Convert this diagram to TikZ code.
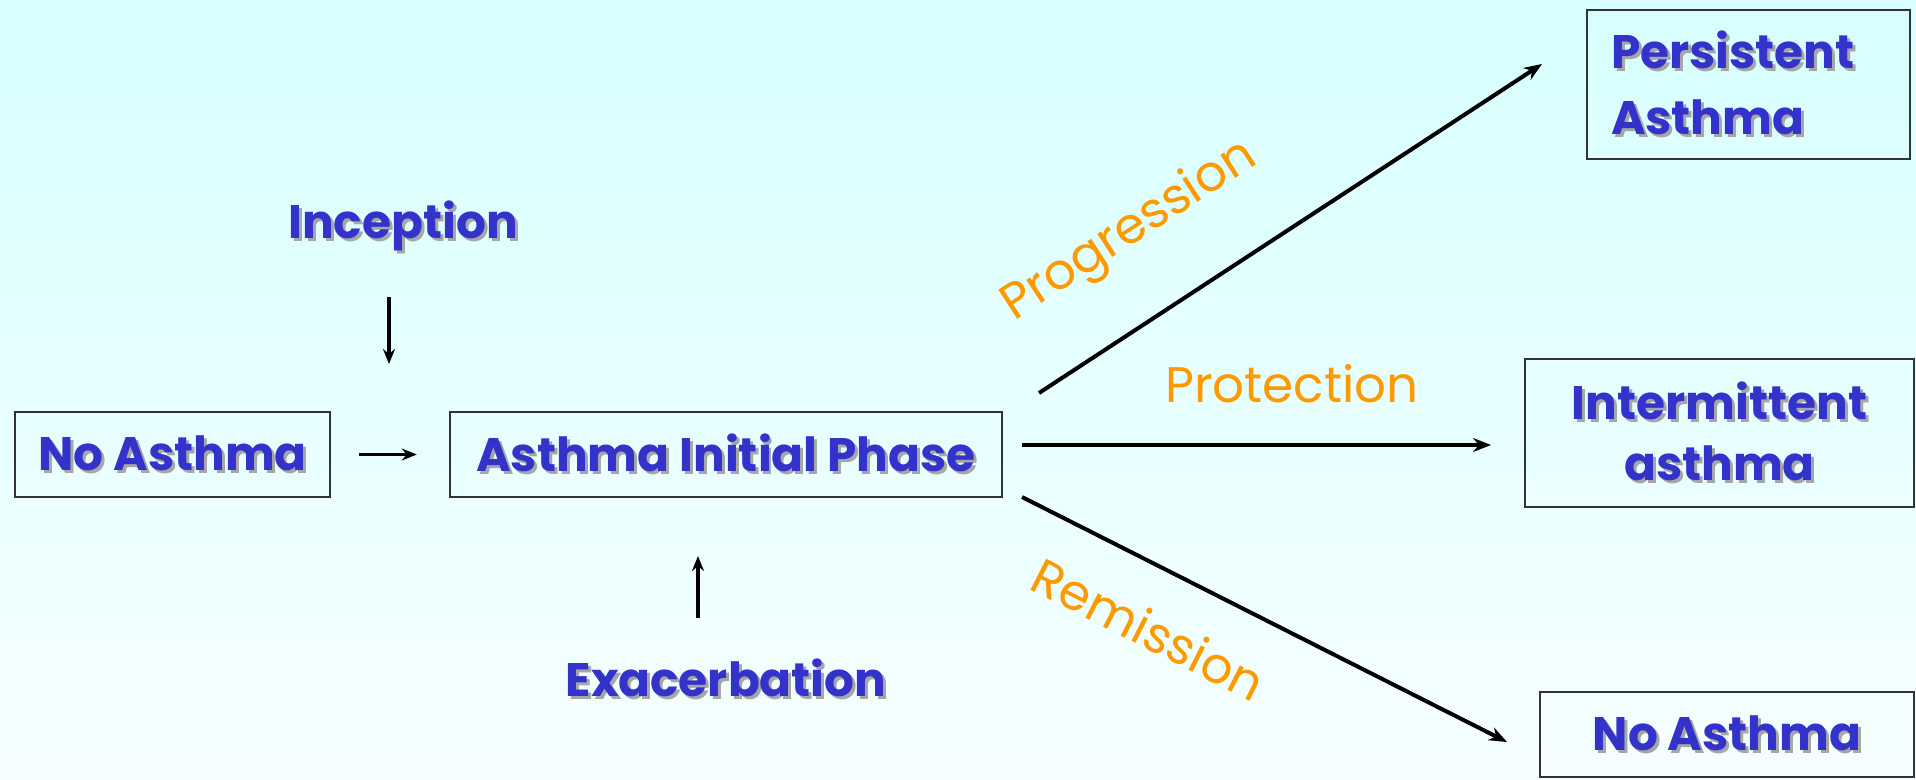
\documentclass[tikz,border=0pt]{standalone}
\usepackage{fontspec}
\setmainfont{Poppins}
\usetikzlibrary{arrows.meta}
\definecolor{txtblue}{RGB}{51,51,204}
\definecolor{txtorange}{RGB}{255,153,0}
\definecolor{bgtop}{RGB}{215,255,255}
\definecolor{bgbot}{RGB}{246,255,255}
\newcommand\shd[1]{\leavevmode\rlap{\hspace{3pt}\raisebox{-3pt}{\textcolor{black!35}{#1}}}#1}
\tikzset{
  box/.style={draw=black!80, line width=2.5pt, text=txtblue, font=\bfseries\fontsize{47}{62}\selectfont, inner sep=0pt},
  lbl/.style={text=txtblue, font=\bfseries\fontsize{47}{62}\selectfont, inner sep=0pt},
  olbl/.style={text=txtorange, font=\fontsize{50}{60}\selectfont, inner sep=0pt},
  arr/.style={-{Stealth[length=18pt,width=14pt]}, line width=4pt},
  sarr/.style={-{Stealth[length=15pt,width=12pt]}, line width=3.3pt}
}
\begin{document}
\begin{tikzpicture}[x=1pt,y=-1pt]
\shade[top color=bgtop,bottom color=bgbot] (0,0) rectangle (1916,779);
\useasboundingbox (0,0) rectangle (1916,779);
\node[box, minimum width=315pt, minimum height=85pt] (na) at (172.5,454.5) {\shd{No Asthma}};
\node[box, minimum width=552pt, minimum height=85pt] (init) at (726,454.5) {\shd{Asthma Initial Phase}};
\node[box, minimum width=323pt, minimum height=149pt, text width=275pt, align=left, font=\bfseries\fontsize{47}{66}\selectfont] (pers) at (1748.5,84.5) {\shd{Persistent}\\\shd{Asthma}};
\node[box, minimum width=389pt, minimum height=148pt, align=center, font=\bfseries\fontsize{47}{61}\selectfont] (inter) at (1719.5,433) {\shd{Intermittent}\\\shd{asthma}};
\node[box, minimum width=374pt, minimum height=85pt] (na2) at (1727,734.5) {\shd{No Asthma}};
\node[lbl] (inc) at (403,227) {\shd{Inception}};
\node[lbl] (exa) at (726,679) {\shd{Exacerbation}};
\coordinate (incA) at (389,297);
\coordinate (incB) at (389,364);
\coordinate (exaA) at (698,618);
\coordinate (exaB) at (698,556);
\draw[sarr] (incA) -- (incB);
\draw[sarr] (exaA) -- (exaB);
\draw[sarr] ([xshift=28pt]na.east) -- ([xshift=-32pt]init.west);
\coordinate (pgA) at (1039,393);
\coordinate (pgB) at (1542,64);
\coordinate (ptA) at (1022,445);
\coordinate (ptB) at (1491,445);
\coordinate (rmA) at (1022,497);
\coordinate (rmB) at (1507,742);
\draw[arr] (pgA) -- (pgB);
\draw[arr] (ptA) -- (ptB);
\draw[arr] (rmA) -- (rmB);
\node[olbl, rotate=33] (pg) at (1130,232) {Progression};
\node[olbl] (pt) at (1292,384) {Protection};
\node[olbl, rotate=-27] (rm) at (1149,629) {Remission};
\end{tikzpicture}
\end{document}
